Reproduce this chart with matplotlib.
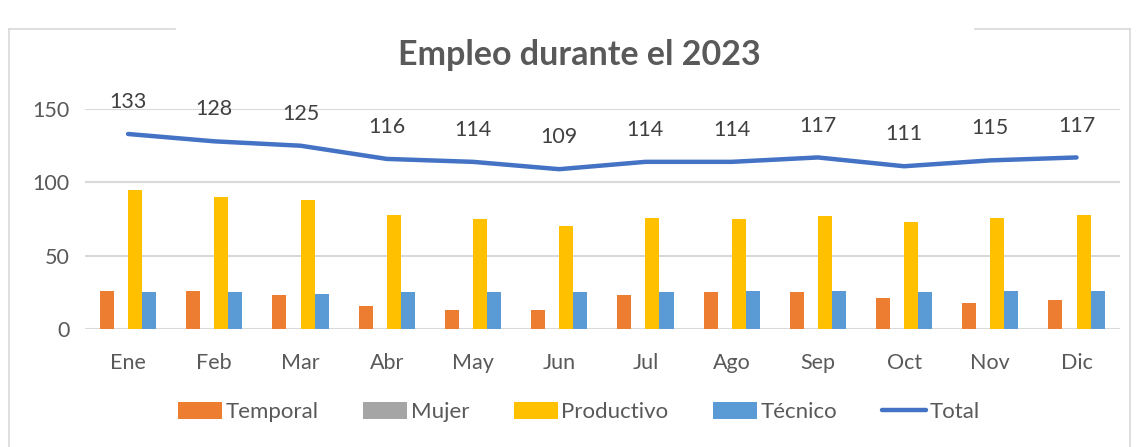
import numpy as np
import matplotlib.pyplot as plt

plt.rcParams["font.family"] = ["Lato", "DejaVu Sans"]

# Monthly employment values
meses = ["Ene", "Feb", "Mar", "Abr", "May", "Jun",
         "Jul", "Ago", "Sep", "Oct", "Nov", "Dic"]
temporal   = [26, 26, 23, 16, 13, 13, 23, 25, 25, 21, 18, 20]
mujer      = [0, 0, 0, 0, 0, 0, 0, 0, 0, 0, 0, 0]
productivo = [95, 90, 88, 78, 75, 70, 76, 75, 77, 73, 76, 78]
tecnico    = [25, 25, 24, 25, 25, 25, 25, 26, 26, 25, 26, 26]
total      = [133, 128, 125, 116, 114, 109, 114, 114, 117, 111, 115, 117]

x = np.arange(len(meses))
w = 0.163
gris = "#595959"

# Plot
fig = plt.figure(figsize=(11.39, 4.47), dpi=100)
plt.subplots_adjust(left=0.0746, right=0.983, bottom=0.264, top=0.756)

plt.bar(x - 1.5 * w, temporal,   width=w, color="#ED7D31", label="Temporal", zorder=2)
plt.bar(x - 0.5 * w, mujer,      width=w, color="#A5A5A5", label="Mujer", zorder=2)
plt.bar(x + 0.5 * w, productivo, width=w, color="#FFC000", label="Productivo", zorder=2)
plt.bar(x + 1.5 * w, tecnico,    width=w, color="#5B9BD5", label="Técnico", zorder=2)
plt.plot(x, total, color="#4472C4", linewidth=3.2, solid_capstyle="round", label="Total", zorder=3)

for xi, v in zip(x, total):
    plt.annotate(str(v), (xi, v), xytext=(0, 23), textcoords="offset points",
                 ha="center", va="center", fontsize=15.5, color="#404040")

plt.xlim(-0.5, len(meses) - 0.5)
plt.ylim(0, 150)
plt.yticks([0, 50, 100, 150])
plt.xticks(x, meses)
plt.tick_params(axis="both", length=0, labelsize=15.5, labelcolor=gris)
plt.tick_params(axis="x", pad=17)
plt.tick_params(axis="y", pad=11)
plt.grid(True, axis="y", color="#D9D9D9", linewidth=1.5, zorder=0)
for s in plt.gca().spines.values():
    s.set_visible(False)

fig.text(0.509, 0.877, "Empleo durante el 2023", ha="center", va="center",
         fontsize=24.5, fontweight="bold", color=gris)

# Legend in the same order as the series
h, l = plt.gca().get_legend_handles_labels()
orden = [1, 2, 3, 4, 0]
plt.legend([h[i] for i in orden], [l[i] for i in orden],
           loc="center", bbox_to_anchor=(0.508, 0.078), bbox_transform=fig.transFigure,
           ncol=5, frameon=False, fontsize=16, labelcolor=gris,
           handlelength=2.0, handleheight=0.8, handletextpad=0.15, columnspacing=2.0)

# Chart border
borde = "#D9D9D9"
fig.add_artist(plt.Line2D([0.008, 0.008], [0.0, 0.935], color=borde, linewidth=1.2))
fig.add_artist(plt.Line2D([0.992, 0.992], [0.0, 0.935], color=borde, linewidth=1.2))
fig.add_artist(plt.Line2D([0.008, 0.154], [0.935, 0.935], color=borde, linewidth=1.2))
fig.add_artist(plt.Line2D([0.856, 0.992], [0.935, 0.935], color=borde, linewidth=1.2))

plt.savefig("out.png", dpi=100)
plt.close()
